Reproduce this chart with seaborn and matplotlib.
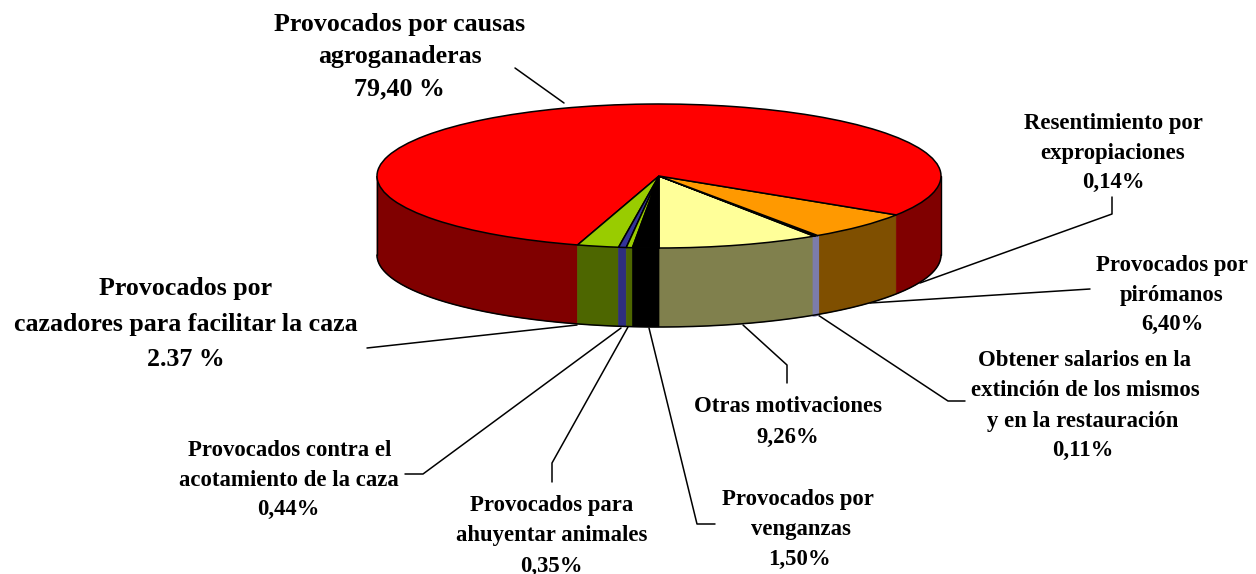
import numpy as np
import seaborn as sns
import matplotlib.pyplot as plt
from matplotlib.transforms import Affine2D

sns.set_theme(style='white')
plt.rcParams['font.family'] = ['Liberation Serif', 'DejaVu Serif']

# counterclockwise on screen, starting from the front of the pie
labels = ['Otras motivaciones', 'Obtener salarios', 'Resentimiento', 'Piromanos', 'Agroganaderas',
          'Cazadores', 'Acotamiento', 'Ahuyentar', 'Venganzas']
values = [9.26, 0.11, 0.14, 6.40, 79.40, 2.37, 0.44, 0.35, 1.50]
top_colors = ['#FFFF99', '#666699', '#666699', '#FF9900', '#FF0000', '#99CC00', '#333399', '#99CC00', '#000000']
side_colors = ['#80804D', '#7C7CAA', '#7C7CAA', '#7F4F00', '#800000', '#4D6600', '#2E2E80', '#4D6600', '#000000']

cx, cy = 659, 176
rx, ry = 282, 72
depth = 79

fig, ax = plt.subplots(figsize=(12.56, 5.74), dpi=100)
fig.subplots_adjust(0, 0, 1, 1)

# top face comes from ax.pie, squashed into an ellipse
wedges, _ = ax.pie(values, colors=top_colors, startangle=90, counterclock=False, radius=rx,
                   wedgeprops=dict(edgecolor='black', linewidth=1.1))
squash = Affine2D().scale(1, ry / rx).translate(cx, cy) + ax.transData
for w in wedges:
    w.set_transform(squash)
    w.set_zorder(3)

# side walls, only the front half of the rim shows
edges = np.cumsum([0] + values) / sum(values) * 360
for i in range(len(values)):
    thin = values[i] < 0.2
    for lo, hi in [(0, 90), (270, 360)]:
        t0, t1 = max(edges[i], lo), min(edges[i + 1], hi)
        if t1 <= t0:
            continue
        t = np.radians(np.linspace(t0, t1, 60))
        x = cx + rx * np.sin(t)
        y = cy + ry * np.cos(t)
        # thin slices get a fat outline or they vanish next to the orange wall
        ax.fill(np.r_[x, x[::-1]], np.r_[y, y[::-1] + depth], facecolor=side_colors[i],
                edgecolor=side_colors[i], linewidth=2.0 if thin else 0.5, zorder=2.5 if thin else 2)

# black rim along the bottom and the two outer corners
t = np.radians(np.linspace(-90, 90, 300))
ax.plot(cx + rx * np.sin(t), cy + ry * np.cos(t) + depth, color='black', lw=1.1, zorder=2.6)
ax.plot([cx - rx, cx - rx], [cy, cy + depth], color='black', lw=1.0, zorder=2.6)
ax.plot([cx + rx, cx + rx], [cy, cy + depth], color='black', lw=1.0, zorder=2.6)

ax.set_aspect('auto')
ax.set_xlim(0, 1256)
ax.set_ylim(574, 0)

leaders = [
    [(515, 68), (564, 103)],
    [(1112, 197), (1112, 214), (920, 283)],
    [(1090, 289), (870, 303)],
    [(965, 401), (948, 401), (818, 315)],
    [(787, 383), (787, 365), (743, 325)],
    [(715, 524), (697, 524), (649, 328)],
    [(552, 482), (552, 463), (628, 327)],
    [(405, 474), (423, 474), (621, 328)],
    [(367, 348), (577, 325)],
]
for pts in leaders:
    px, py = zip(*pts)
    ax.plot(px, py, color='black', lw=1.1, zorder=1)

texts = [
    (400, 24, 'Provocados por causas', 18.6), (400, 57, 'agroganaderas', 18.6), (399, 89, '79,40 %', 18.6),
    (1113, 124, 'Resentimiento por', 16.4), (1113, 153, 'expropiaciones', 16.4), (1113, 182, '0,14%', 16.4),
    (1172, 265, 'Provocados por', 16.4), (1172, 295, 'pirómanos', 16.4), (1172, 324, '6,40%', 16.4),
    (1085, 360, 'Obtener salarios en la', 16.4), (1085, 391, 'extinción de los mismos', 16.4),
    (1083, 421, 'y en la restauración', 16.4), (1083, 450, '0,11%', 16.4),
    (788, 407, 'Otras motivaciones', 16.4), (788, 437, '9,26%', 16.4),
    (186, 289, 'Provocados por', 18.6), (186, 324, 'cazadores para facilitar la caza', 18.6), (186, 359, '2.37 %', 18.6),
    (290, 450, 'Provocados contra el', 16.4), (289, 480, 'acotamiento de la caza', 16.4), (288, 509, '0,44%', 16.4),
    (552, 506, 'Provocados para', 16.4), (552, 536, 'ahuyentar animales', 16.4), (551, 566, '0,35%', 16.4),
    (798, 500, 'Provocados por', 16.4), (801, 530, 'venganzas', 16.4), (799, 559, '1,50%', 16.4),
]
for x, y, s, size in texts:
    ax.text(x, y, s, ha='center', va='center', fontsize=size, fontweight='bold', color='black', zorder=5)

ax.axis('off')
fig.savefig('out.png', dpi=100, facecolor='white')
